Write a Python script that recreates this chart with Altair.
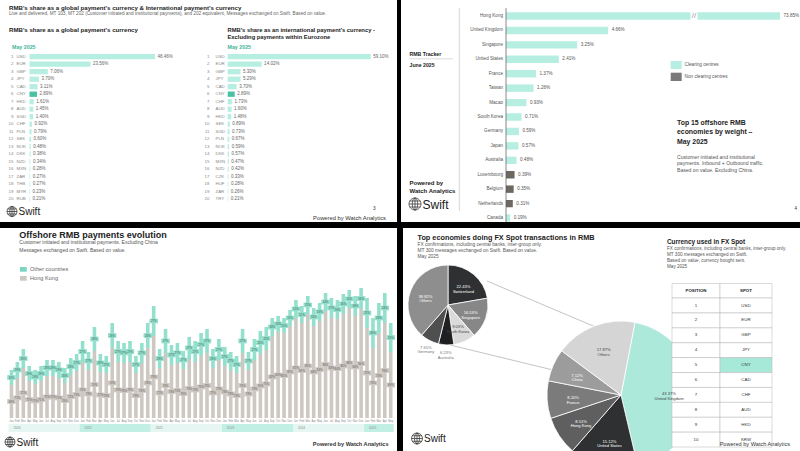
import math
import altair as alt
import pandas as pd

FONT = "Liberation Sans"
TEAL = "#b6efe2"
TEAL_D = "#49c1a3"
TEAL_C = "#93e0cd"
GRAY_C = "#cec8c2"
DARK_NC = "#6d6762"
TXT = "#333333"
SUB = "#666666"

# ---------------- data ----------------
g_rank = list(range(1, 21))
g_code = ["USD", "EUR", "GBP", "JPY", "CAD", "CNY", "HKD", "AUD", "SGD", "CHF",
          "PLN", "SEK", "NOK", "DKK", "NZD", "MXN", "ZAR", "THB", "MYR", "RUB"]
g_val = [48.46, 23.56, 7.06, 3.70, 3.11, 2.89, 1.61, 1.45, 1.40, 0.92,
         0.79, 0.60, 0.48, 0.38, 0.34, 0.28, 0.27, 0.27, 0.23, 0.21]

e_code = ["USD", "EUR", "GBP", "JPY", "CAD", "CNY", "CHF", "AUD", "HKD", "SEK",
          "SGD", "PLN", "NOK", "DKK", "MXN", "NZD", "CZK", "HUF", "ZAR", "TRY"]
e_val = [59.10, 14.02, 5.30, 5.29, 3.70, 2.89, 1.73, 1.60, 1.48, 0.89,
         0.73, 0.67, 0.59, 0.57, 0.47, 0.42, 0.33, 0.28, 0.26, 0.21]

b_country = ["Hong Kong", "United Kingdom", "Singapore", "United States", "France",
             "Taiwan", "Macao", "South Korea", "Germany", "Japan", "Australia",
             "Luxembourg", "Belgium", "Netherlands", "Canada"]
b_val = [73.85, 4.66, 3.25, 2.41, 1.37, 1.26, 0.93, 0.71, 0.59, 0.57, 0.48,
         0.39, 0.35, 0.31, 0.19]
b_clearing = ["yes"] * 11 + ["no"] * 3 + ["yes"]

c_years = [2020, 2021, 2022, 2023, 2024, 2025]
c_month_names = ["Jan", "Feb", "Mar", "Apr", "May", "Jun", "Jul", "Aug", "Sep", "Oct", "Nov", "Dec"]
c_hk = [33, 40, 50, 37, 34, 37, 42, 42, 40, 35, 43, 47,
        56, 48, 67, 46, 45, 70, 56, 55, 56, 45, 55, 70,
        82, 50, 65, 53, 55, 49, 59, 56, 62, 65, 50, 58,
        52, 48, 45, 65, 48, 58, 64, 68, 82, 86, 85, 92,
        100, 95, 104, 92, 97, 107, 100, 99, 104, 110, 102, 109,
        90, 70, 85, 95, 66]
c_oth = [15, 16, 19, 15, 14, 15, 16, 16, 16, 15, 17, 17,
         21, 18, 24, 18, 17, 25, 21, 20, 21, 17, 20, 25,
         30, 19, 24, 20, 20, 18, 22, 21, 23, 24, 19, 21,
         19, 18, 17, 24, 18, 21, 23, 23, 18, 16, 15, 16,
         18, 17, 18, 18, 18, 18, 20, 19, 20, 18, 20, 21,
         30, 30, 30, 30, 29]

big_names = ["United Kingdom", "United States", "Hong Kong", "France", "China", "Others"]
big_vals = [43.37, 15.12, 8.51, 8.20, 7.12, 17.87]
small_names = ["Switzerland", "Singapore", "South Korea", "Australia", "Germany", "Others "]
small_vals = [22.43, 16.53, 9.03, 6.23, 7.65, 38.82]

spot_pos = list(range(1, 11))
spot_code = ["USD", "EUR", "GBP", "JPY", "CNY", "CAD", "CHF", "AUD", "HKD", "KRW"]

# palettes (style)
big_cols = ["#ace9da", "#2e3032", "#5f5f5f", "#7b7b7b", "#9c9c9c", "#d5d5d5"]
small_cols = ["#2e3032", "#878787", "#dadada", "#1e2022", "#4f4f4f", "#8e8e8e"]

ONE = alt.Data(values=[{"k": 0}])


def txt(s, x, y, size=5.0, color=TXT, weight="normal", align="left", baseline="middle", lh=None):
    kw = dict(text=s, align=align, baseline=baseline, fontSize=size, color=color,
              fontWeight=weight, font=FONT)
    if lh:
        kw["lineHeight"] = lh
    return alt.Chart(ONE).mark_text(**kw).encode(x=alt.value(x), y=alt.value(y))


def box(x0, y0, x1, y1, fill, stroke=None, sw=0.5):
    kw = dict(color=fill)
    if stroke:
        kw.update(stroke=stroke, strokeWidth=sw)
    return alt.Chart(ONE).mark_rect(**kw).encode(
        x=alt.value(x0), x2=alt.value(x1), y=alt.value(y0), y2=alt.value(y1))


def rule(x0, y0, x1, y1, color="#999999", sw=0.6):
    return alt.Chart(ONE).mark_rule(color=color, strokeWidth=sw).encode(
        x=alt.value(x0), x2=alt.value(x1), y=alt.value(y0), y2=alt.value(y1))


GLOBE = ("M-1,0 A1,1 0 1,0 1,0 A1,1 0 1,0 -1,0 "
         "M0,-1 A0.45,1 0 1,0 0,1 A0.45,1 0 1,0 0,-1 "
         "M0,-1 L0,1 M-1,0 L1,0 M-0.87,-0.5 L0.87,-0.5 M-0.87,0.5 L0.87,0.5")


def logo(x, y, r, fs):
    g = alt.Chart(ONE).mark_point(shape=GLOBE, filled=False, stroke="#222222",
                                  strokeWidth=0.7, size=(2 * r) ** 2, opacity=1).encode(
        x=alt.value(x), y=alt.value(y))
    t = txt("Swift", x + r + 1.5, y + 0.5, fs, "#1a1a1a", "normal")
    return alt.layer(g, t)


def band(c0, step, n, thick):
    pi = max(0.0, 1 - thick / step)
    return alt.Scale(range=[c0 - step / 2, c0 - step / 2 + n * step],
                     paddingInner=pi, paddingOuter=pi / 2)


layers = []

# ---------------- panel backgrounds ----------------
layers += [box(0, 0, 397, 222, "white"), box(401, 0, 800, 222, "white"),
           box(0, 228, 397, 451, "white"), box(403, 228, 800, 451, "white")]

# ---------------- Panel A ----------------
layers += [
    txt("RMB's share as a global payment's currency & International payment's currency",
        9, 7.5, 6.1, "#222222", "bold"),
    txt("Live and delivered, MT 103, MT 202 (Customer initiated and institutional payments), "
        "and 202 equivalent, Messages exchanged on Swift. Based on value.", 9, 13.8, 4.7, SUB),
    txt("RMB's share as a global payment's currency", 9, 29.5, 6.1, "#222222", "bold"),
    txt(["RMB's share as an international payment's currency -",
         "Excluding payments within Eurozone"], 227.5, 29.5, 5.8, "#222222", "bold", lh=7.0),
    txt("May 2025", 12, 46.5, 5.3, "#3fb597", "bold"),
    txt("May 2025", 227.5, 46.5, 5.3, "#3fb597", "bold"),
    txt("3", 373, 209, 4.8, "#333333"),
    txt("Powered by Watch Analytics", 386, 217.5, 5.8, "#333333", "normal", "right"),
    logo(12, 211.5, 5, 10),
]


def rank_chart(codes, vals, x0, x1, rank_x, code_x):
    df = pd.DataFrame({"rank": g_rank, "code": codes, "val": vals})
    ys = band(56.7, 7.5, 20, 5.3)
    xs = alt.Scale(domain=[0, vals[0]], range=[x0, x1])
    base = alt.Chart(df).encode(y=alt.Y("rank:O", scale=ys, axis=None))
    bars = base.mark_bar().encode(
        x=alt.X("val:Q", scale=xs, axis=None),
        color=alt.condition("datum.code == 'CNY'", alt.value(TEAL_D), alt.value(TEAL)))
    labs = base.mark_text(align="left", dx=2.5, fontSize=4.5, color="#666666", font=FONT).transform_calculate(
        lab="format(datum.val, '.2f') + '%'").encode(x=alt.X("val:Q", scale=xs, axis=None), text="lab:N")
    ranks = base.mark_text(align="right", fontSize=4.4, color="#888888", font=FONT).encode(
        x=alt.value(rank_x), text="rank:O")
    cds = base.mark_text(align="left", fontSize=4.4, color="#888888", font=FONT).encode(
        x=alt.value(code_x), text="code:N")
    return alt.layer(bars, labs, ranks, cds)


layers.append(rank_chart(g_code, g_val, 29.5, 155, 13.5, 16.5))
layers.append(rank_chart(e_code, e_val, 227.7, 370.7, 209.5, 215.5))

# ---------------- Panel B ----------------
dfB = pd.DataFrame({"country": b_country, "val": b_val, "clearing": b_clearing})
yB = band(16, 14.43, 15, 7.4)
xB = alt.Scale(domain=[0, 12.5], range=[506, 780], clamp=True)
baseB = alt.Chart(dfB).encode(y=alt.Y("country:N", sort=None, scale=yB, axis=None))
barsB = baseB.mark_bar().encode(
    x=alt.X("val:Q", scale=xB, axis=None),
    color=alt.condition("datum.clearing == 'yes'", alt.value(TEAL), alt.value(DARK_NC)))
labsB = baseB.mark_text(align="left", dx=3.5, fontSize=4.6, color="#555555", font=FONT).transform_calculate(
    lab="format(datum.val, '.2f') + '%'").encode(x=alt.X("val:Q", scale=xB, axis=None), text="lab:N")
namesB = baseB.mark_text(align="right", fontSize=4.6, color="#555555", font=FONT).encode(
    x=alt.value(503), text="country:N")
layers += [
    rule(459.3, 8, 459.3, 211, "#bbbbbb", 0.6),
    alt.layer(barsB, labsB, namesB),
    rule(506, 8, 506, 222, "#555555", 0.7),
    box(690.5, 12, 697.5, 20.5, "white"),
    txt("//", 694, 16.3, 8, "#999999", "normal", "center"),
    txt("RMB Tracker", 409.5, 54, 5.2, "#222222", "bold"),
    rule(409.5, 58.8, 453, 58.8, "#bbbbbb", 0.5),
    txt("June 2025", 409.5, 64.7, 5.2, "#222222", "bold"),
    box(670.7, 61, 681.7, 69, TEAL),
    txt("Clearing centres", 684.5, 65, 4.7, "#555555"),
    box(670.7, 72.7, 681.7, 81, "#7a7a7a"),
    txt("Non clearing centres", 684.5, 77, 4.7, "#555555"),
    txt(["Top 15 offshore RMB", "economies by weight \u2013", "May 2025"], 677, 122.5, 6.9,
        "#222222", "bold", lh=9.5),
    txt(["Customer initiated and institutional", "payments. Inbound + Outbound traffic.",
         "Based on value. Excluding China."], 677, 157, 5.1, "#555555", lh=6.4),
    txt(["Powered by", "Watch Analytics"], 409.5, 182.7, 6.0, "#222222", "bold", lh=8),
    logo(415, 204, 6, 12),
    txt("4", 794.5, 209, 4.6, "#333333"),
]

# ---------------- Panel C ----------------
months = []
for yr in c_years:
    for m in c_month_names:
        if len(months) < len(c_hk):
            months.append(m)
dfC = pd.DataFrame({"i": list(range(len(c_hk))), "month": months, "hk": c_hk, "oth": c_oth})
STEP_C = 6.08
xC = alt.Scale(domain=[-0.5, len(c_hk) - 0.5], range=[3.5, 3.5 + len(c_hk) * STEP_C])
yC = alt.Scale(domain=[0, 130], range=[418, 288])
RECT = "M-1,-0.56 L1,-0.56 L1,0.56 L-1,0.56 Z"
baseC = alt.Chart(dfC).transform_calculate(
    tot="datum.hk + datum.oth", hmid="datum.hk / 2", omid="datum.hk + datum.oth / 2",
    hp="datum.hk / (datum.hk + datum.oth)", op="datum.oth / (datum.hk + datum.oth)"
).encode(x=alt.X("i:Q", scale=xC, axis=None))
hkBars = baseC.mark_bar(orient="vertical", width=3.6, color=GRAY_C).encode(
    y=alt.Y("hk:Q", scale=yC, axis=None), y2=alt.datum(0))
othBars = baseC.mark_bar(orient="vertical", width=3.6, color=TEAL_C).encode(
    y=alt.Y("tot:Q", scale=yC, axis=None), y2="hk:Q")
hkBox = baseC.mark_point(shape=RECT, filled=True, size=72, color=GRAY_C, opacity=1).encode(
    y=alt.Y("hmid:Q", scale=yC, axis=None))
othBox = baseC.mark_point(shape=RECT, filled=True, size=72, color=TEAL_C, opacity=1).encode(
    y=alt.Y("omid:Q", scale=yC, axis=None))
hkLab = baseC.mark_text(fontSize=2.8, color="#555555", font=FONT).encode(
    y=alt.Y("hmid:Q", scale=yC, axis=None), text=alt.Text("hp:Q", format=".0%"))
othLab = baseC.mark_text(fontSize=2.8, color="#3d5a52", font=FONT).encode(
    y=alt.Y("omid:Q", scale=yC, axis=None), text=alt.Text("op:Q", format=".0%"))
monLab = baseC.mark_text(fontSize=2.7, color="#888888", font=FONT).encode(
    y=alt.value(421), text="month:N")

dfY = pd.DataFrame({"year": [str(y) for y in c_years],
                    "s": [k * 12 - 0.5 for k in range(len(c_years))],
                    "e": [min(k * 12 + 11, len(c_hk) - 1) + 0.5 for k in range(len(c_years))],
                    "alt": ["a", "b", "a", "b", "a", "b"]})
yrBand = alt.Chart(dfY).mark_rect().encode(
    x=alt.X("s:Q", scale=xC, axis=None), x2="e:Q", y=alt.value(424), y2=alt.value(432),
    color=alt.condition("datum.alt == 'a'", alt.value("#e6f7f3"), alt.value("#c2efe4")))
yrLab = alt.Chart(dfY).mark_text(align="left", dx=5, fontSize=3.2, color="#888888", font=FONT).encode(
    x=alt.X("s:Q", scale=xC, axis=None), y=alt.value(428.2), text="year:N")

layers += [
    alt.layer(hkBars, othBars, hkBox, othBox, hkLab, othLab, monLab, yrBand, yrLab),
    txt("Offshore RMB payments evolution", 19.3, 234.5, 9.0, "#222222", "bold"),
    txt("Customer initiated and institutional payments. Excluding China", 19.3, 241.5, 5.0, "#555555"),
    txt("Messages exchanged on Swift. Based on value.", 19.3, 250, 5.0, "#555555"),
    box(20, 267, 26.7, 271.7, "#79d6bf"),
    txt("Other countries", 30, 269.4, 5.6, "#666666"),
    box(20, 276, 26.7, 280.7, GRAY_C),
    txt("Hong Kong", 30, 278.4, 5.6, "#666666"),
    logo(10, 442, 5, 10),
    txt("Powered by Watch Analytics", 388.5, 444.3, 5.6, "#333333", "bold", "right"),
]

# ---------------- Panel D ----------------


def pie(names, vals, cols, cx, cy, r, a0, r_lab, outside, r_out, light):
    df = pd.DataFrame({"name": names, "val": vals, "o": list(range(len(names)))})
    th = alt.Theta("val:Q", stack=True, scale=alt.Scale(range=[a0, a0 + 2 * math.pi]))
    base = alt.Chart(df).transform_calculate(
        lab="format(datum.val, '.2f') + '%\\n' + trim(datum.name)").encode(
        theta=th, order=alt.Order("o:Q"), x=alt.value(cx), y=alt.value(cy))
    arcs = base.mark_arc(outerRadius=r, stroke="white", strokeWidth=0.8).encode(
        color=alt.Color("name:N", scale=alt.Scale(domain=names, range=cols), legend=None))
    out_list = "[" + ",".join("'" + n + "'" for n in outside) + "]"
    light_list = "[" + ",".join("'" + n + "'" for n in light) + "]"
    inner = base.mark_text(radius=r_lab, fontSize=4.1, lineBreak="\n", font=FONT, lineHeight=4.9).transform_calculate(
        t="indexof(" + out_list + ", datum.name) >= 0 ? '' : datum.lab").encode(
        text="t:N",
        color=alt.condition("indexof(" + light_list + ", datum.name) >= 0",
                            alt.value("#444444"), alt.value("white")))
    outer = base.mark_text(radius=r_out, fontSize=4.1, lineBreak="\n", font=FONT, lineHeight=4.9,
                           color="#777777").transform_calculate(
        t="indexof(" + out_list + ", datum.name) >= 0 ? datum.lab : ''").encode(text="t:N")
    return alt.layer(arcs, outer), inner


small_arcs, small_labels = pie(small_names, small_vals, small_cols, 448, 305, 40, 0, 24,
                               ["Germany", "Australia"], 48, ["South Korea"])
big_arcs, big_labels = pie(big_names, big_vals, big_cols, 621, 395, 74, 0.19, 48, [], 90,
                           ["United Kingdom", "Others"])

layers += [
    txt("Top economies doing FX Spot transactions in RMB", 417.5, 237.8, 7.3, "#222222", "bold"),
    txt(["FX confirmations, including central banks, inter-group only.",
         "MT 300 messages exchanged on Swift. Based on value.", "May 2025"],
        417.5, 245, 4.8, "#555555", lh=5.9),
    rule(487, 281, 612, 334, "#888888", 0.5),
    rule(450, 345, 553, 370, "#888888", 0.5),
    small_arcs, small_labels,
    big_arcs,
    txt("Currency used in FX Spot", 667, 242, 6.4, "#222222", "bold"),
    txt(["FX confirmations, including central banks, inter-group only.",
         "MT 300 messages exchanged on Swift.", "Based on value, currency bought sent.", "May 2025"],
        667, 249, 4.6, "#555555", lh=6),
]

dfT = pd.DataFrame({"pos": spot_pos, "spot": spot_code})
yT = band(305.5, 14.9, 10, 14.9)
baseT = alt.Chart(dfT).encode(y=alt.Y("pos:O", scale=yT, axis=None))
cellP = baseT.mark_rect(fill="white", stroke="#b5b5b5", strokeWidth=0.5).encode(
    x=alt.value(672), x2=alt.value(720))
cellS = baseT.mark_rect(stroke="#b5b5b5", strokeWidth=0.5).encode(
    x=alt.value(720), x2=alt.value(772),
    fill=alt.condition("datum.spot == 'CNY'", alt.value("#a6e9d8"), alt.value("white")))
tP = baseT.mark_text(fontSize=4.4, color="#333333", font=FONT).encode(x=alt.value(696), text="pos:O")
tS = baseT.mark_text(fontSize=4.4, color="#333333", font=FONT).encode(x=alt.value(746), text="spot:N")
layers += [
    box(672, 283.5, 720, 298, "white", "#b5b5b5", 0.5),
    box(720, 283.5, 772, 298, "white", "#b5b5b5", 0.5),
    txt("POSITION", 696, 291, 4.4, "#222222", "bold", "center"),
    txt("SPOT", 746, 291, 4.4, "#222222", "bold", "center"),
    alt.layer(cellP, cellS, tP, tS),
    big_labels,
    logo(417, 438.5, 5.5, 10),
    txt("Powered by Watch Analytics", 790, 444.3, 5.6, "#333333", "normal", "right"),
]

chart = alt.layer(*layers).resolve_scale(
    x="independent", y="independent", color="independent", theta="independent"
).properties(width=800, height=451, background="#000000", padding=0, autosize="none"
             ).configure_view(stroke=None)

chart.save("out.html", embed_options={"renderer": "svg", "actions": False})
